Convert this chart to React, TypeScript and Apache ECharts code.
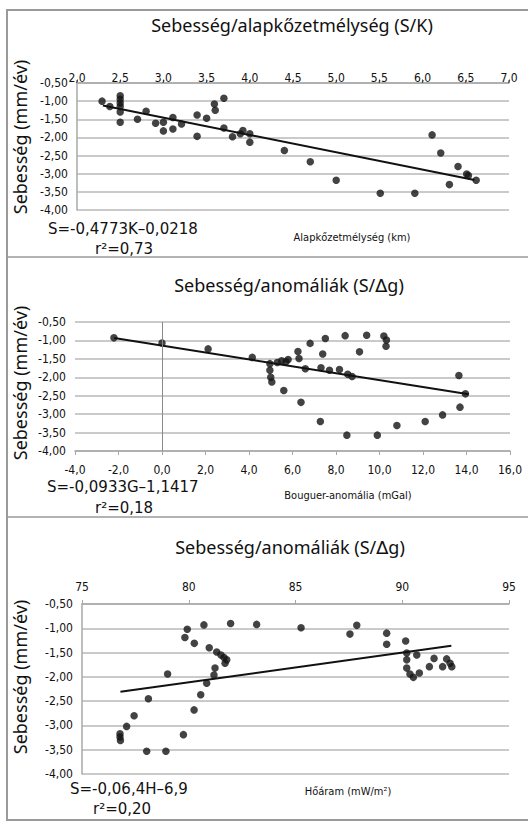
import React, { useEffect, useRef } from "react";
import * as echarts from "echarts";

// ---- Panel 1: velocity vs bedrock depth ----
const depthK = [2.29, 2.38, 2.5, 2.5, 2.5, 2.5, 2.5, 2.5, 2.7, 2.8, 2.91, 3.0, 3.0, 3.11, 3.11, 3.21, 3.39, 3.39, 3.5, 3.59, 3.6, 3.7, 3.7, 3.8, 3.89, 3.92, 4.0, 4.0, 4.4, 4.7, 5.0, 5.51, 5.91, 6.11, 6.21, 6.31, 6.41, 6.51, 6.53, 6.62];
const speedK = [-1.0, -1.15, -0.85, -0.95, -1.05, -1.15, -1.3, -1.58, -1.5, -1.28, -1.61, -1.58, -1.82, -1.45, -1.77, -1.63, -1.38, -1.97, -1.47, -1.08, -1.25, -0.92, -1.74, -1.98, -1.9, -1.81, -1.9, -2.13, -2.36, -2.67, -3.18, -3.54, -3.54, -1.93, -2.43, -3.3, -2.8, -3.01, -3.05, -3.18];

// ---- Panel 2: velocity vs Bouguer anomaly ----
const bouguerG = [-2.21, 0.0, 2.12, 4.15, 4.96, 4.96, 5.0, 5.05, 5.3, 5.5, 5.7, 5.8, 5.6, 6.25, 6.3, 6.81, 7.51, 7.39, 8.42, 9.41, 9.08, 10.2, 10.32, 10.3, 6.59, 7.31, 7.7, 8.16, 8.54, 8.74, 6.39, 7.28, 8.5, 9.9, 10.8, 12.1, 12.9, 13.7, 13.95, 13.65];
const speedG = [-0.93, -1.07, -1.23, -1.46, -1.63, -1.81, -2.0, -2.13, -1.6, -1.55, -1.58, -1.52, -2.36, -1.3, -1.49, -1.08, -0.95, -1.37, -0.87, -0.86, -1.31, -0.88, -0.99, -1.16, -1.77, -1.74, -1.81, -1.79, -1.92, -1.98, -2.68, -3.2, -3.57, -3.57, -3.31, -3.2, -3.02, -2.81, -2.45, -1.95];

// ---- Panel 3: velocity vs heat flow ----
const heatH = [76.78, 76.78, 76.8, 77.09, 77.44, 78.11, 78.03, 78.93, 79.01, 79.75, 79.82, 79.93, 80.26, 80.25, 80.56, 80.71, 80.84, 80.96, 81.18, 81.23, 81.31, 81.51, 81.65, 81.7, 81.78, 81.96, 83.18, 85.26, 87.55, 87.87, 89.27, 89.27, 90.16, 90.21, 90.21, 90.21, 90.36, 90.52, 90.68, 90.8, 91.27, 91.49, 91.89, 92.08, 92.24, 92.32];
const speedH = [-3.17, -3.24, -3.31, -3.02, -2.8, -2.45, -3.53, -3.53, -1.94, -3.19, -1.19, -1.02, -1.31, -2.68, -2.37, -0.93, -2.13, -1.4, -1.96, -1.82, -1.49, -1.55, -1.6, -1.72, -1.65, -0.9, -0.92, -0.99, -1.12, -0.94, -1.1, -1.33, -1.26, -1.51, -1.65, -1.82, -1.94, -2.01, -1.55, -1.92, -1.79, -1.62, -1.79, -1.63, -1.72, -1.79];

// ---- Texts ----
const titles = ["Sebesség/alapkőzetmélység (S/K)", "Sebesség/anomáliák (S/∆g)", "Sebesség/anomáliák (S/∆g)"];
const xNames = ["Alapkőzetmélység (km)", "Bouguer-anomália (mGal)", "Hőáram (mW/m²)"];
const equations = ["S=-0,4773K–0,0218", "S=-0,0933G–1,1417", "S=-0,06,4H–6,9"];
const rSquared = ["r²=0,73", "r²=0,18", "r²=0,20"];
const yName = "Sebesség (mm/év)";

// ---- Regression lines ----
const trendSlope = [-0.4773, -0.0933, 0.0611];
const trendIntercept = [-0.0218, -1.1417, -7.0];
const trendFrom = [2.3, -2.2, 76.8];
const trendTo = [6.6, 14.1, 92.3];

// ---- Axis ranges [min, max, interval] ----
const xRanges = [[2, 7, 0.5], [-4, 16, 2], [75, 95, 5]];
const xDecimals = [1, 1, 0];
const yRange = [-4, -0.5, 0.5];

const xs = [depthK, bouguerG, heatH];
const ys = [speedK, speedG, speedH];

const grids = [
  { left: 77, top: 83, width: 432, height: 127 },
  { left: 75, top: 322, width: 435, height: 129 },
  { left: 82, top: 604, width: 427, height: 170 },
];
const xPos = ["top", "bottom", "top"];
const xLabelMargin = [-1, 13, 11];
const showYLine = [true, false, true];
const titleY = [25, 285, 547];
const titleX = [292, 289, 290];
const yNameY = [137, 383, 677];
const eqX = [48, 47, 70];
const eqY = [229, 487, 789];
const rX = [95, 95, 93];
const rY = [249, 508, 809];
const xNameX = [352, 348, 348];
const xNameY = [237, 495, 791];

const NARROW = "'Liberation Sans Narrow', 'DejaVu Sans Condensed', sans-serif";
const ROUND = "'Noto Sans', 'DejaVu Sans', sans-serif";
const WIDE = "'DejaVu Sans', sans-serif";

export default function App() {
  const ref = useRef<HTMLDivElement>(null);
  useEffect(() => {
    if (!ref.current) return;
    const chart = echarts.init(ref.current, undefined, { renderer: "svg" });
    const fmt = (d: number) => (v: number) => v.toFixed(d).replace(".", ",");

    const xAxis = [0, 1, 2].map((i) => ({
      type: "value",
      gridIndex: i,
      position: xPos[i],
      min: xRanges[i][0],
      max: xRanges[i][1],
      interval: xRanges[i][2],
      axisLine: { show: true, lineStyle: { color: "#a8a8a8", width: 1.5 } },
      axisTick: { show: true, length: 4, lineStyle: { color: "#a8a8a8" } },
      splitLine: { show: false },
      axisLabel: {
        margin: xLabelMargin[i],
        color: "#111",
        fontFamily: NARROW,
        fontSize: 12,
        formatter: fmt(xDecimals[i]),
      },
    }));
    const yAxis = [0, 1, 2].map((i) => ({
      type: "value",
      gridIndex: i,
      min: yRange[0],
      max: yRange[1],
      interval: yRange[2],
      axisLine: { show: showYLine[i], lineStyle: { color: "#a8a8a8", width: 1.5 } },
      axisTick: { show: false },
      splitLine: { show: true, lineStyle: { color: "#b8b8b8", width: 1.6 } },
      axisLabel: {
        margin: 9,
        color: "#111",
        fontFamily: NARROW,
        fontSize: 12,
        formatter: fmt(2),
      },
    }));

    const series: any[] = [];
    [0, 1, 2].forEach((i) => {
      const sc: any = {
        type: "scatter",
        xAxisIndex: i,
        yAxisIndex: i,
        symbolSize: 7.5,
        itemStyle: { color: "#141414" },
        data: xs[i].map((x, k) => [x, ys[i][k]]),
        z: 3,
      };
      if (i === 1) {
        sc.markLine = {
          silent: true,
          symbol: "none",
          label: { show: false },
          lineStyle: { color: "#8a8a8a", width: 1, type: "solid" },
          data: [{ xAxis: 0 }],
        };
      }
      series.push(sc);
      const a = trendFrom[i];
      const b = trendTo[i];
      series.push({
        type: "line",
        xAxisIndex: i,
        yAxisIndex: i,
        showSymbol: false,
        symbol: "none",
        lineStyle: { color: "#111", width: 2 },
        data: [
          [a, trendSlope[i] * a + trendIntercept[i]],
          [b, trendSlope[i] * b + trendIntercept[i]],
        ],
        z: 4,
      });
    });

    const graphic: any[] = [
      { type: "rect", shape: { x: 7, y: 10, width: 530, height: 810 }, style: { fill: "none", stroke: "#9a9a9a", lineWidth: 2 } },
      { type: "line", shape: { x1: 7, y1: 257, x2: 528, y2: 257 }, style: { stroke: "#9a9a9a", lineWidth: 1.5 } },
      { type: "line", shape: { x1: 7, y1: 517, x2: 528, y2: 517 }, style: { stroke: "#9a9a9a", lineWidth: 1.5 } },
    ];
    [0, 1, 2].forEach((i) => {
      graphic.push({
        type: "text",
        x: titleX[i],
        y: titleY[i],
        style: { text: titles[i], font: `18px ${ROUND}`, fill: "#111", textAlign: "center", textVerticalAlign: "middle" },
      });
      graphic.push({
        type: "text",
        x: 20,
        y: yNameY[i],
        rotation: Math.PI / 2,
        style: { text: yName, font: `18px ${ROUND}`, fill: "#111", textAlign: "center", textVerticalAlign: "middle" },
      });
      graphic.push({
        type: "text",
        x: eqX[i],
        y: eqY[i],
        style: { text: equations[i], font: `15px ${WIDE}`, fill: "#111", textAlign: "left", textVerticalAlign: "middle" },
      });
      graphic.push({
        type: "text",
        x: rX[i],
        y: rY[i],
        style: { text: rSquared[i], font: `15px ${WIDE}`, fill: "#111", textAlign: "left", textVerticalAlign: "middle" },
      });
      graphic.push({
        type: "text",
        x: xNameX[i],
        y: xNameY[i],
        style: { text: xNames[i], font: `11px ${NARROW}`, fill: "#111", textAlign: "center", textVerticalAlign: "middle" },
      });
    });

    chart.setOption({
      animation: false,
      backgroundColor: "#ffffff",
      grid: grids.map((g) => ({ ...g, containLabel: false })),
      xAxis,
      yAxis,
      series,
      graphic,
    });
    return () => chart.dispose();
  }, []);
  return (
    <div
      ref={ref}
      style={{ position: "absolute", left: 0, top: 0, width: 528, height: 821, background: "#fff" }}
    />
  );
}
